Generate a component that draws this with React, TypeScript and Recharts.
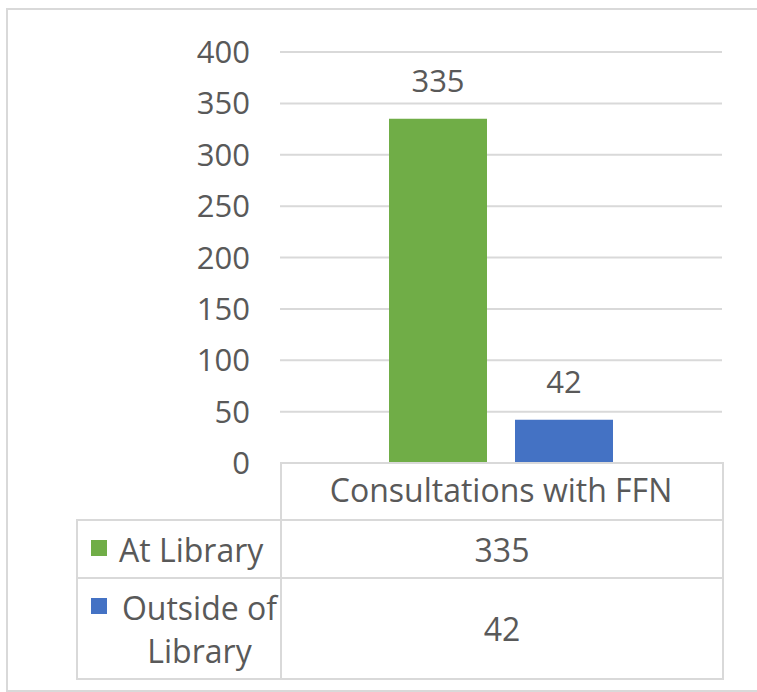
import React from 'react';
import { BarChart, Bar, XAxis, YAxis, CartesianGrid, LabelList } from 'recharts';

const categories = ['Consultations with FFN'];
const atLibrary = [335];
const outsideLibrary = [42];
const seriesNames = ['At Library', 'Outside of Library'];
const yTicks = [0, 50, 100, 150, 200, 250, 300, 350, 400];

const GREEN = '#70AD47';
const BLUE = '#4472C4';
const TEXT = '#595959';
const LINE = '#D9D9D9';
const FONT = '"Open Sans", "DejaVu Sans", sans-serif';

const data = categories.map((c, i) => ({
  name: c,
  atLibrary: atLibrary[i],
  outside: outsideLibrary[i],
}));

const cellBorder = `2px solid ${LINE}`;

const App: React.FC = () => {
  return (
    <div style={{ position: 'absolute', left: 0, top: 0, width: 757, height: 692, overflow: 'hidden', background: '#fff', fontFamily: FONT }}>
      {/* chart frame */}
      <div style={{ position: 'absolute', left: 6, top: 8, width: 800, height: 680, border: cellBorder }} />
      <div style={{ position: 'absolute', left: 0, top: 0 }}>
        <BarChart
          width={757}
          height={692}
          data={data}
          margin={{ top: 52, right: 35, bottom: 174, left: 190 }}
          barSize={98}
          barGap={28}
        >
          <CartesianGrid vertical={false} horizontal stroke={LINE} strokeWidth={2} />
          <XAxis
            dataKey="name"
            axisLine={false}
            tickLine={false}
            height={55}
            tickMargin={10}
            tick={{ fill: TEXT, fontSize: 32, fontFamily: FONT }}
          />
          <YAxis
            domain={[0, 400]}
            ticks={yTicks}
            axisLine={false}
            tickLine={false}
            width={90}
            tickSize={0}
            tickMargin={30}
            tick={{ fill: TEXT, fontSize: 31, fontFamily: FONT }}
          />
          <Bar dataKey="atLibrary" name={seriesNames[0]} fill={GREEN} isAnimationActive={false}>
            <LabelList dataKey="atLibrary" position="top" offset={27} fill={TEXT} fontSize={31} fontFamily={FONT} />
          </Bar>
          <Bar dataKey="outside" name={seriesNames[1]} fill={BLUE} isAnimationActive={false}>
            <LabelList dataKey="outside" position="top" offset={27} fill={TEXT} fontSize={31} fontFamily={FONT} />
          </Bar>
        </BarChart>
      </div>
      {/* data table */}
      <table
        style={{
          position: 'absolute',
          left: 76,
          top: 462,
          borderCollapse: 'collapse',
          tableLayout: 'fixed',
          color: TEXT,
          fontSize: 32,
          fontFamily: FONT,
        }}
      >
        <colgroup>
          <col style={{ width: 204 }} />
          <col style={{ width: 442 }} />
        </colgroup>
        <tbody>
          <tr style={{ height: 57 }}>
            <td style={{ border: 'none', padding: 0 }} />
            <td style={{ border: cellBorder, padding: 0 }} />
          </tr>
          {[atLibrary, outsideLibrary].map((vals, i) => (
            <tr key={seriesNames[i]} style={{ height: i === 0 ? 58 : 101 }}>
              <td style={{ border: cellBorder, padding: '0 0 0 13px', lineHeight: '43px' }}>
                <div style={{ display: 'flex', alignItems: 'flex-start' }}>
                  <span
                    style={{
                      display: 'inline-block',
                      width: 16,
                      height: 16,
                      background: i === 0 ? GREEN : BLUE,
                      marginTop: 12,
                      marginRight: 12,
                      flexShrink: 0,
                    }}
                  />
                  <span style={{ textAlign: i === 0 ? 'left' : 'center', flex: 1, whiteSpace: 'normal' }}>{seriesNames[i]}</span>
                </div>
              </td>
              <td style={{ border: cellBorder, padding: 0, textAlign: 'center' }}>{vals[0]}</td>
            </tr>
          ))}
        </tbody>
      </table>
    </div>
  );
};

export default App;
